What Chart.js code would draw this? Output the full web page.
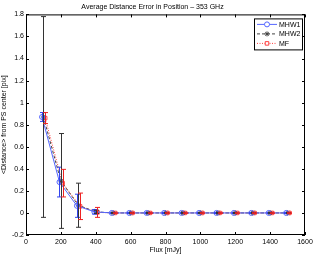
<!DOCTYPE html>
<html>
<head>
<meta charset="utf-8">
<script src="https://cdn.jsdelivr.net/npm/chart.js@4"></script>
<style>
  html, body { margin: 0; padding: 0; background: #fff; }
  canvas { display: block; }
</style>
</head>
<body>
<canvas id="chart" width="316" height="254"></canvas>
<script>
// data
const fluxes = [100, 200, 300, 400, 500, 600, 700, 800, 900, 1000, 1100, 1200, 1300, 1400, 1500];
const xTicks = [0, 200, 400, 600, 800, 1000, 1200, 1400, 1600];
const yTicks = [-0.2, 0, 0.2, 0.4, 0.6, 0.8, 1, 1.2, 1.4, 1.6, 1.8];
const mhw1Mean = [0.87, 0.28, 0.065, 0.01, 0, 0, 0, 0, 0, 0, 0, 0, 0, 0, 0];
const mhw1Err  = [0.04, 0.135, 0.105, 0.02, 0.005, 0.005, 0.005, 0.005, 0.005, 0.005, 0.005, 0.005, 0.005, 0.005, 0.005];
const mhw2Mean = [0.87, 0.29, 0.07, 0.01, 0, 0, 0, 0, 0, 0, 0, 0, 0, 0, 0];
const mhw2Err  = [0.91, 0.43, 0.2, 0.015, 0.004, 0.004, 0.004, 0.004, 0.004, 0.004, 0.004, 0.004, 0.004, 0.004, 0.004];
const mfMean   = [0.86, 0.27, 0.06, 0.005, 0, 0, 0, 0, 0, 0, 0, 0, 0, 0, 0];
const mfErr    = [0.05, 0.125, 0.12, 0.045, 0.006, 0.006, 0.006, 0.006, 0.006, 0.006, 0.006, 0.006, 0.006, 0.006, 0.006];
const seriesNames = ['MHW1', 'MHW2', 'MF'];

const FONT = "'Liberation Sans', Arial, sans-serif";
const BLUE = '#5566ff';
const BLACK = '#444444';
const RED = '#ff4040';

function pts(means, shift) {
    return fluxes.map((f, i) => ({ x: f + shift, y: means[i] }));
}

// vertical error bars with caps
const errorBars = {
    id: 'errorBars',
    afterDatasetsDraw(chart) {
        const { ctx, scales: { x, y } } = chart;
        ctx.save();
        chart.data.datasets.forEach(ds => {
            ctx.strokeStyle = ds.errColor;
            ctx.lineWidth = 1;
            ds.data.forEach((p, i) => {
                const px = Math.round(x.getPixelForValue(p.x)) + 0.5;
                const top = y.getPixelForValue(p.y + ds.errs[i]);
                const bot = y.getPixelForValue(p.y - ds.errs[i]);
                ctx.beginPath();
                ctx.moveTo(px, top); ctx.lineTo(px, bot);
                ctx.moveTo(px - 2.5, top); ctx.lineTo(px + 2.5, top);
                ctx.moveTo(px - 2.5, bot); ctx.lineTo(px + 2.5, bot);
                ctx.stroke();
            });
        });
        ctx.restore();
    }
};

// matlab style box, inward ticks and legend
const boxFrame = {
    id: 'boxFrame',
    afterDraw(chart) {
        const { ctx, chartArea: a, scales: { x, y } } = chart;
        ctx.save();
        ctx.strokeStyle = '#000';
        ctx.lineWidth = 1;
        ctx.strokeRect(a.left + 0.5, a.top + 0.5, a.right - a.left - 1, a.bottom - a.top - 1);
        ctx.beginPath();
        xTicks.forEach(v => {
            const px = Math.round(x.getPixelForValue(v)) + 0.5;
            ctx.moveTo(px, a.bottom); ctx.lineTo(px, a.bottom - 3);
            ctx.moveTo(px, a.top); ctx.lineTo(px, a.top + 3);
        });
        yTicks.forEach(v => {
            const py = Math.round(y.getPixelForValue(v)) + 0.5;
            ctx.moveTo(a.left, py); ctx.lineTo(a.left + 3, py);
            ctx.moveTo(a.right, py); ctx.lineTo(a.right - 3, py);
        });
        ctx.stroke();

        // legend
        const lx = a.right - 51, ly = a.top + 4, lw = 48, lh = 31;
        ctx.fillStyle = '#fff';
        ctx.fillRect(lx, ly, lw, lh);
        ctx.strokeRect(lx + 0.5, ly + 0.5, lw, lh);
        ctx.font = '7px ' + FONT;
        ctx.textBaseline = 'middle';
        chart.data.datasets.forEach((ds, i) => {
            const ry = ly + 6 + i * 9.5;
            ctx.strokeStyle = ds.borderColor;
            ctx.setLineDash(ds.borderDash || []);
            ctx.beginPath();
            ctx.moveTo(lx + 3, ry); ctx.lineTo(lx + 23, ry);
            ctx.stroke();
            ctx.setLineDash([]);
            ctx.fillStyle = '#fff';
            Chart.helpers.drawPoint(ctx, {
                pointStyle: ds.pointStyle, radius: 2.5, borderWidth: 1
            }, lx + 13, ry);
            ctx.fillStyle = '#000';
            ctx.fillText(seriesNames[i], lx + 25, ry + 0.5);
        });
        ctx.restore();
    }
};

function makeDataset(label, means, errs, shift, color, errColor, style, dash) {
    return {
        label: label,
        data: pts(means, shift),
        errs: errs,
        errColor: errColor,
        borderColor: color,
        backgroundColor: 'rgba(0,0,0,0)',
        borderWidth: 1,
        borderDash: dash,
        pointStyle: style,
        pointRadius: 2.5,
        pointBorderColor: color,
        pointBackgroundColor: 'rgba(0,0,0,0)',
        pointBorderWidth: 1,
        showLine: true,
        tension: 0
    };
}

const tickFont = { family: FONT, size: 7, weight: 'normal' };

new Chart(document.getElementById('chart').getContext('2d'), {
    type: 'scatter',
    data: {
        datasets: [
            makeDataset('MHW1', mhw1Mean, mhw1Err, -8, BLUE, '#3344ee', 'circle', []),
            makeDataset('MHW2', mhw2Mean, mhw2Err, 0, BLACK, '#333333', 'star', [3, 2]),
            makeDataset('MF', mfMean, mfErr, 10, RED, '#ee2222', 'rect', [1, 1.5])
        ]
    },
    options: {
        responsive: false,
        animation: false,
        layout: { padding: { top: 0, right: 11, left: 0, bottom: 0 } },
        plugins: {
            legend: { display: false },
            tooltip: { enabled: false },
            title: {
                display: true,
                text: 'Average Distance Error in Position \u2013 353 GHz',
                color: '#000',
                font: tickFont,
                padding: { top: 3, bottom: 3 }
            }
        },
        scales: {
            x: {
                type: 'linear',
                min: 0, max: 1600,
                afterBuildTicks: s => { s.ticks = xTicks.map(v => ({ value: v })); },
                afterFit: s => { s.height = 19; },
                grid: { display: false, drawTicks: false },
                border: { display: false },
                ticks: { color: '#000', font: tickFont, padding: 3, maxRotation: 0, callback: v => String(v) },
                title: { display: true, text: 'Flux [mJy]', color: '#000', font: tickFont, padding: 0 }
            },
            y: {
                type: 'linear',
                min: -0.2, max: 1.8,
                afterBuildTicks: s => { s.ticks = yTicks.map(v => ({ value: v })); },
                afterFit: s => { s.width = 26; },
                grid: { display: false, drawTicks: false },
                border: { display: false },
                ticks: {
                    color: '#000', font: tickFont, padding: 2,
                    callback: v => String(Math.round(v * 10) / 10)
                },
                title: { display: true, text: '<Distance> from PS center [pix]', color: '#000', font: tickFont, padding: 0 }
            }
        }
    },
    plugins: [errorBars, boxFrame]
});
</script>
</body>
</html>
